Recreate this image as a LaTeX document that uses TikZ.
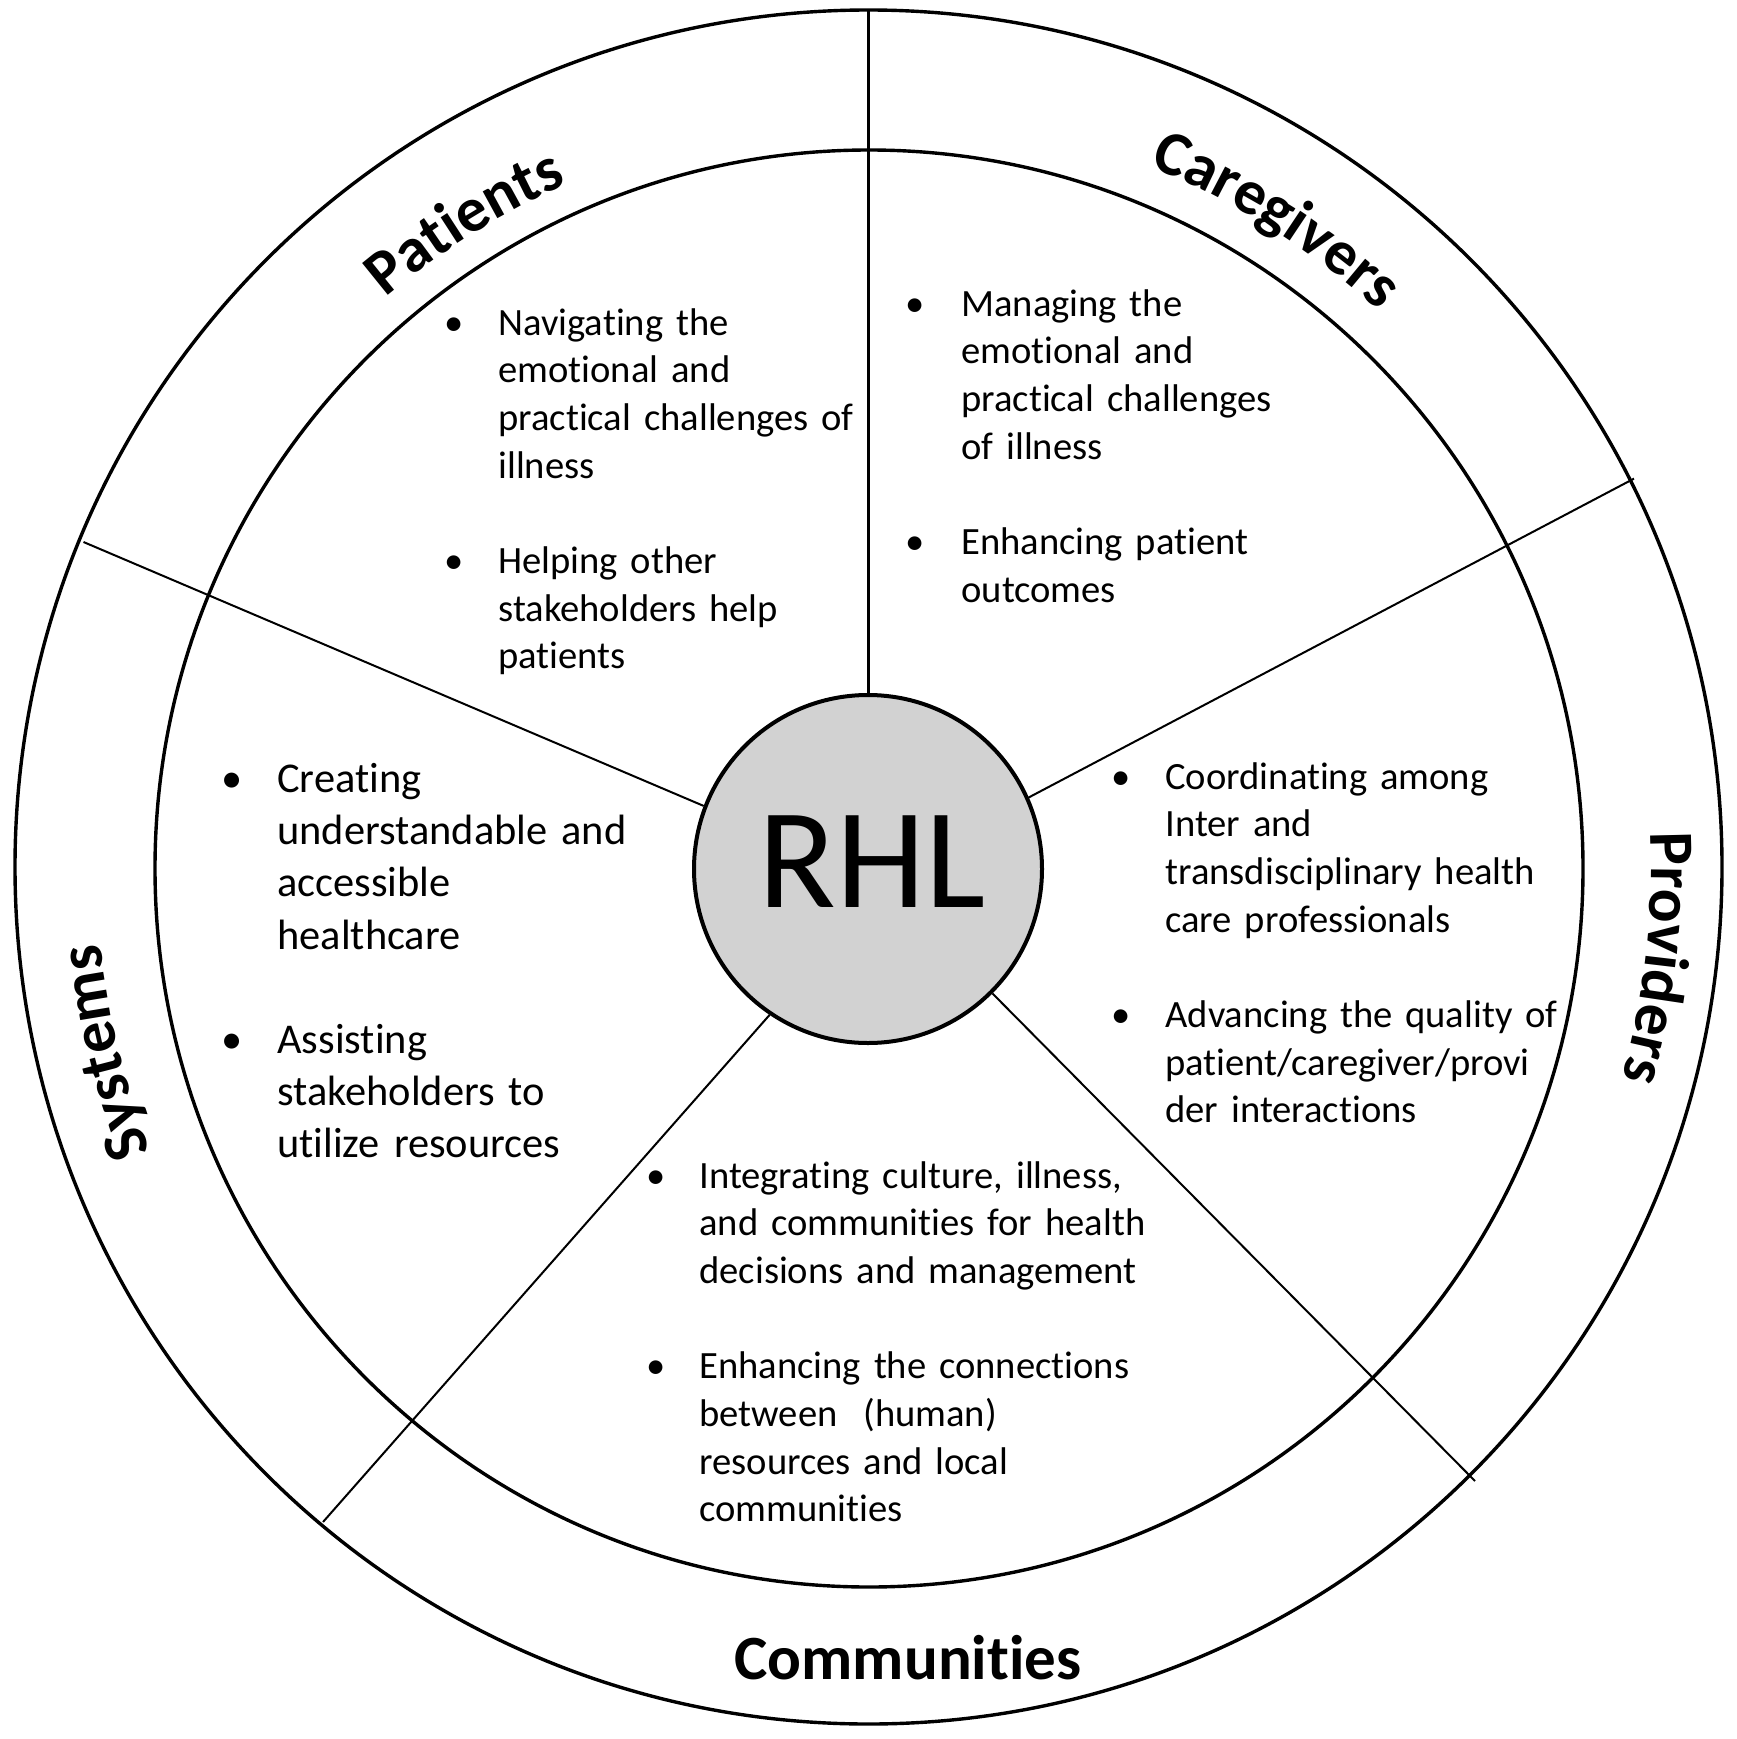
\documentclass[tikz,border=0pt]{standalone}
\usepackage{fontspec}
\setmainfont{Carlito}[Ligatures={NoCommon,NoContextual}]
\usetikzlibrary{decorations.text,calc}
\definecolor{hubgray}{RGB}{210,210,210}
\newcommand{\lblfont}{\fontsize{31.5}{36}\selectfont\bfseries}
\newcommand{\bul}[1]{\leavevmode\llap{\textbullet\hspace{#1}}}
\begin{document}
\begin{tikzpicture}[x=0.5pt,y=0.5pt,
  ring/.style={draw=black, line width=1.7pt},
  spoke/.style={draw=black, line width=1pt},
  spokeV/.style={draw=black, line width=1.5pt},
  hubstyle/.style={circle, draw=black, line width=2pt, fill=hubgray, minimum size=174pt, inner sep=0pt},
  body/.style={anchor=base west, inner sep=0pt, text width=260pt, align=left, font=\fontsize{19.3}{23.85}\selectfont},
  bodyL/.style={anchor=base west, inner sep=0pt, text width=260pt, align=left, font=\fontsize{21.2}{26.1}\selectfont},
  title/.style={inner sep=0pt, font=\lblfont},
  curved/.style={decorate, decoration={text along path, text={|\lblfont|#1}, text align=center}}]
\useasboundingbox (0,0) rectangle (1736,-1739);
\coordinate (C) at (868,-868);
% rings
\draw[ring] (868.5,-867) ellipse [x radius=853.5, y radius=857];
\draw[ring] (869,-868.5) ellipse [x radius=714, y radius=718.5];
% hub
\node[hubstyle] (hub) at (868,-869) {};
\node[inner sep=0pt, anchor=base, font=\fontsize{71.5}{80}\selectfont] (hubtext) at (872,-907) {RHL};
% spokes
\coordinate (oT) at (868,-10);
\coordinate (oUL) at (83.5,-542);
\coordinate (oUR) at (1634,-478.6);
\coordinate (oLR) at (1475,-1481);
\coordinate (oLL) at (323,-1522);
\draw[spokeV] (hub.90) -- (oT);
\draw[spoke] (hub.159.2) -- (oUL);
\draw[spoke] (hub.24) -- (oUR);
\draw[spoke] (hub.-45.2) -- (oLR);
\draw[spoke] (hub.236.1) -- (oLL);
% curved labels
\path[curved=Patients] ($(C)+(152:747)$) arc[start angle=152, end angle=92, radius=747];
\path[curved=Caregivers] ($(C)+(87.8:756)$) arc[start angle=87.8, end angle=27.8, radius=756];
\path[curved=Providers] ($(C)+(23.5:783)$) arc[start angle=23.5, end angle=-36.5, radius=783];
\path[curved=Systems] ($(C)+(223.6:771)$) arc[start angle=223.6, end angle=163.6, radius=771];
\node[title, anchor=base] (communities) at (908,-1679) {Communities};
% text blocks
\node[body] (patientsTxt) at (498,-335) {\bul{17.5pt}Navigating the\\ emotional and\\ practical challenges of\\ illness\\[23.85pt] \bul{17.5pt}Helping other\\ stakeholders help\\ patients};
\node[body] (caregiversTxt) at (961,-316) {\bul{18.5pt}Managing the\\ emotional and\\ practical challenges\\ of illness\\[23.85pt] \bul{18.5pt}Enhancing patient\\ outcomes};
\node[bodyL] (systemsTxt) at (277,-792.5) {\bul{17.5pt}Creating\\ understandable and\\ accessible\\ healthcare\\[26.1pt] \bul{17.5pt}Assisting\\ stakeholders to\\ utilize resources};
\node[body] (providersTxt) at (1165,-789) {\bul{17.5pt}Coordinating among\\ Inter and\\ transdisciplinary health\\ care professionals\\[23.85pt] \bul{17.5pt}Advancing the quality of\\ patient/caregiver/provi\\ der interactions};
\node[body] (communitiesTxt) at (699,-1188) {\bul{17pt}Integrating culture, illness,\\ and communities for health\\ decisions and management\\[23.85pt] \bul{17pt}Enhancing the connections\\ between\ \ (human)\\ resources and local\\ communities};
\end{tikzpicture}
\end{document}
